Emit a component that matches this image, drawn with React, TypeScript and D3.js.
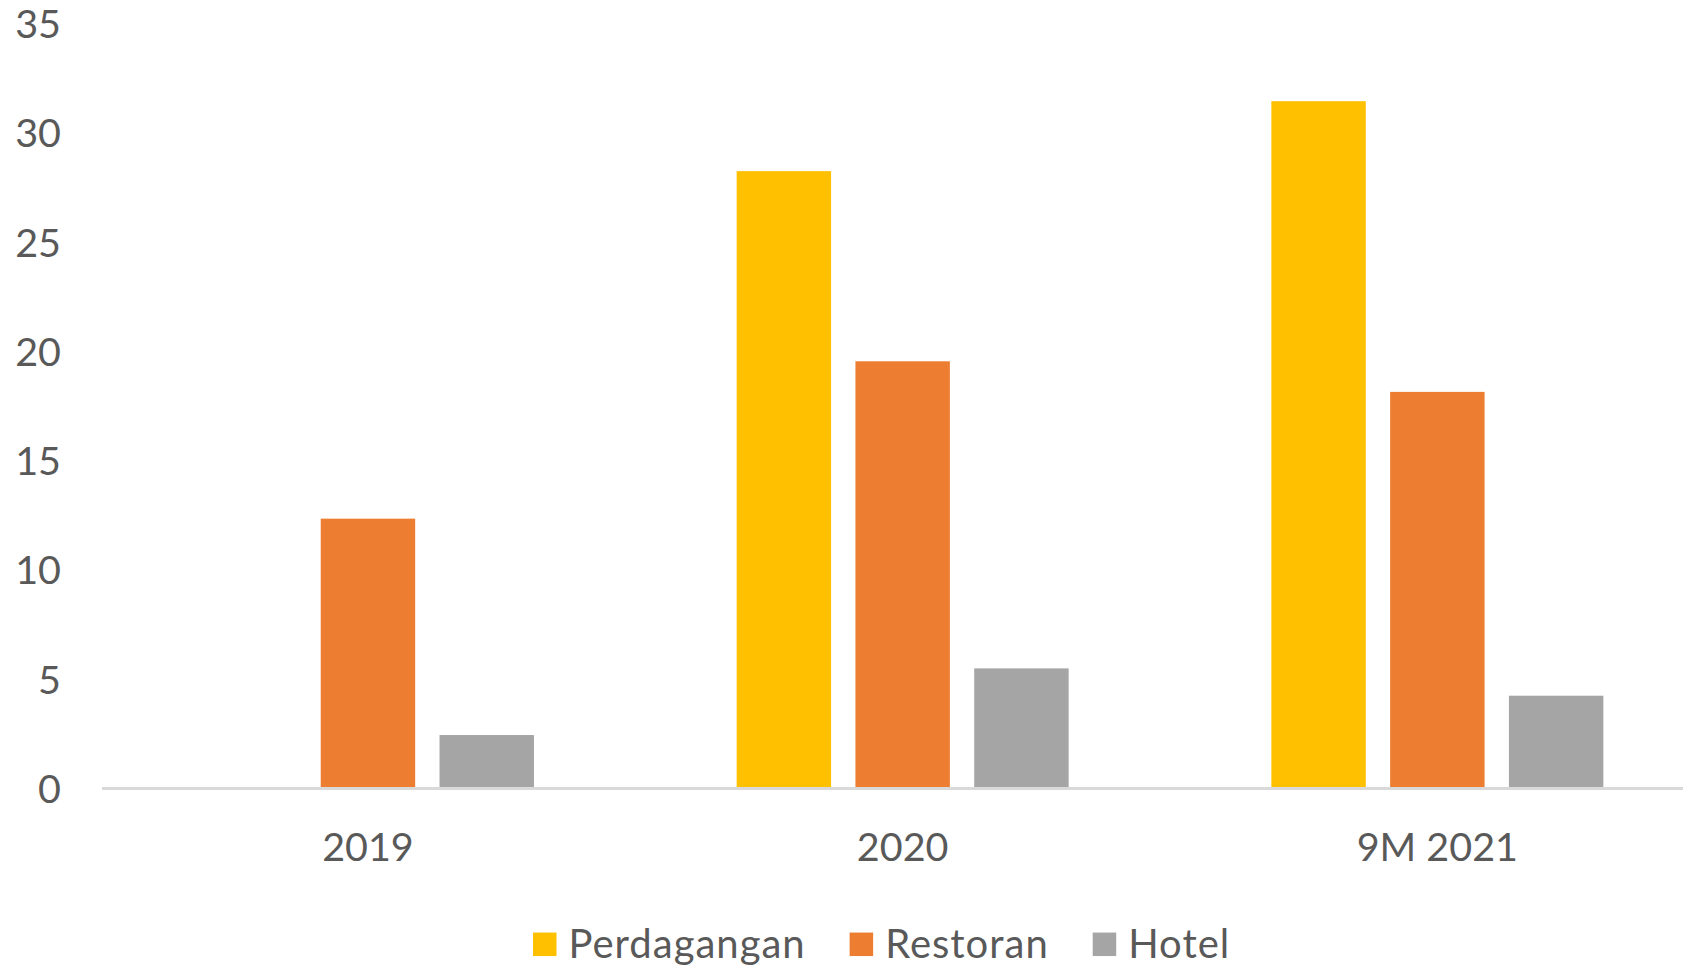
import React, { useEffect, useRef } from "react";
import * as d3 from "d3";

const categories = ["2019", "2020", "9M 2021"];
const seriesNames = ["Perdagangan", "Restoran", "Hotel"];
const perdagangan = [0, 28.2, 31.4];
const restoran = [12.3, 19.5, 18.1];
const hotel = [2.4, 5.45, 4.2];
const yTicks = [0, 5, 10, 15, 20, 25, 30, 35];
const colors = ["#FFC000", "#ED7D31", "#A5A5A5"];

const W = 1683;
const H = 967;
const FONT = "Lato, 'Noto Sans', sans-serif";

export default function App() {
  const ref = useRef<SVGSVGElement | null>(null);

  useEffect(() => {
    const svg = d3.select(ref.current);
    svg.selectAll("*").remove();

    const seriesValues = [perdagangan, restoran, hotel];
    const x0 = d3.scaleBand<string>().domain(categories).range([100.6, 100.6 + 3 * 534.7]).paddingInner(0).paddingOuter(0);
    const x1 = d3.scaleBand<string>().domain(seriesNames).range([-166, 166]).paddingInner(0.205).paddingOuter(0);
    const y = d3.scaleLinear().domain([0, 35]).range([787.5, 22.5]);

    // y labels
    svg.append("g")
      .selectAll("text")
      .data(yTicks)
      .join("text")
      .attr("x", 61)
      .attr("y", (d) => y(d))
      .attr("text-anchor", "end")
      .attr("dominant-baseline", "central")
      .attr("fill", "#595959")
      .attr("font-family", FONT)
      .attr("font-size", 39.5)
      .text((d) => String(d));

    // bars
    const g = svg.append("g");
    categories.forEach((c, ci) => {
      seriesNames.forEach((s, si) => {
        const v = seriesValues[si][ci];
        if (v <= 0) return;
        const cx = (x0(c) as number) + x0.bandwidth() / 2;
        g.append("rect")
          .attr("x", cx + (x1(s) as number))
          .attr("y", y(v))
          .attr("width", x1.bandwidth())
          .attr("height", y(0) - y(v))
          .attr("fill", colors[si]);
      });
    });

    // axis line
    svg.append("line")
      .attr("x1", 102)
      .attr("x2", W)
      .attr("y1", y(0) + 1)
      .attr("y2", y(0) + 1)
      .attr("stroke", "#D9D9D9")
      .attr("stroke-width", 3);

    // x labels
    svg.append("g")
      .selectAll("text")
      .data(categories)
      .join("text")
      .attr("x", (d) => (x0(d) as number) + x0.bandwidth() / 2)
      .attr("y", 845)
      .attr("text-anchor", "middle")
      .attr("dominant-baseline", "central")
      .attr("fill", "#595959")
      .attr("font-family", FONT)
      .attr("font-size", 39.5)
      .text((d) => d);

    // legend
    const leg = svg.append("g");
    const sq = 23.5;
    const gapAfterSq = 12;
    const itemGap = 44;
    const baseline = 958;
    let xs = 533;
    seriesNames.forEach((name, i) => {
      const gi = leg.append("g").attr("transform", `translate(${xs},0)`);
      gi.append("rect").attr("x", 0).attr("y", 944.3 - sq / 2).attr("width", sq).attr("height", sq).attr("fill", colors[i]);
      const t = gi.append("text")
        .attr("x", sq + gapAfterSq)
        .attr("y", baseline)
        .attr("fill", "#595959")
        .attr("font-family", FONT)
        .attr("font-size", 40)
        .attr("letter-spacing", 1)
        .text(name);
      const tw = (t.node() as SVGTextElement).getComputedTextLength();
      xs += sq + gapAfterSq + tw + itemGap;
    });
  }, []);

  return (
    <svg ref={ref} width={W} height={H} style={{ display: "block", position: "absolute", left: 0, top: 0, background: "#fff" }} />
  );
}
